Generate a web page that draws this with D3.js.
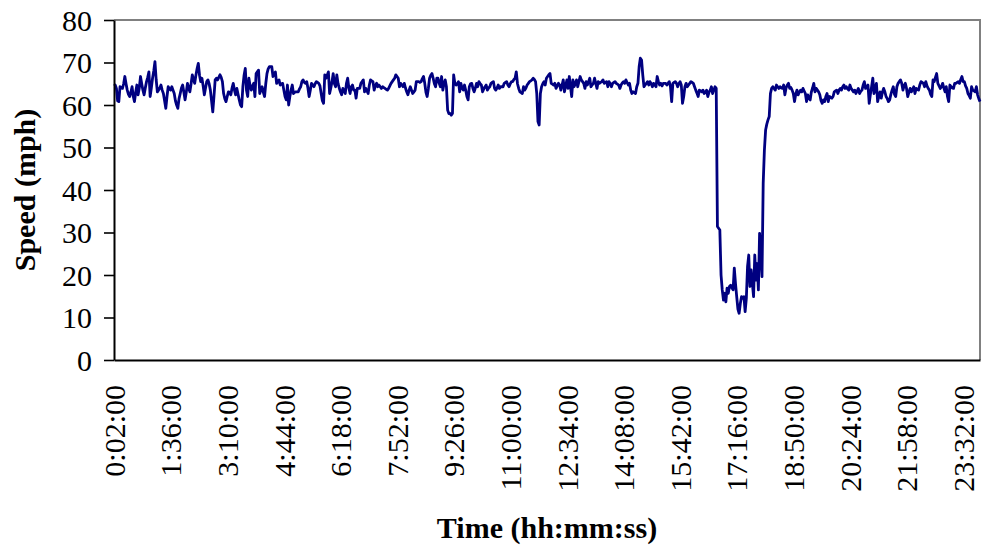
<!DOCTYPE html>
<html>
<head>
<meta charset="utf-8">
<script src="https://cdn.jsdelivr.net/npm/d3@7/dist/d3.min.js"></script>
<style>
  html, body { margin: 0; padding: 0; background: #fff; }
  svg { display: block; }
  text { font-family: "Liberation Serif", "Times New Roman", serif; fill: #000; }
</style>
</head>
<body>
<svg id="chart" width="982" height="550"></svg>
<script>
// Speed samples, one every two minutes from 0:02:00 through the day (mph)
const speed = [
  64.5, 64.7, 63.9, 61, 60.8, 64.3, 64, 63.9, 65, 66.7,
  65, 63.5, 62.5, 62, 63, 64.3, 62, 60.8, 63, 64.7,
  62.4, 64, 66.7, 65, 63.5, 62.4, 64, 65.5, 66.5, 67.8,
  62, 64, 66.3, 68, 70.2, 66, 63.1, 63.5, 64, 64.7,
  63.5, 62.7, 61, 59.2, 62, 64.3, 63.8, 63.5, 64.3, 63.5,
  62.7, 61, 60, 59.2, 61.5, 62.7, 64, 64.7, 63, 61.2,
  63, 65.1, 64, 63.1, 65, 67.1, 66, 65.1, 67, 68.6,
  69.8, 67, 65.5, 66.3, 64.5, 62.4, 64, 65.5, 65.9, 65,
  63.5, 61, 58.4, 62, 65.9, 66.3,
  65.9, 66.5, 67.1, 66.5, 65.5, 62.7, 61.5, 60.8, 62, 63.1,
  63, 62.4, 64, 65.1, 63.5, 62.4, 63.9, 62.5, 61.2, 60,
  59.6, 64.3, 67, 68.6, 63.5, 62, 66.3, 64.5, 63.5, 64.5,
  65.1, 62, 67.4, 67.8, 68.2, 62.7, 63.5, 64.3, 63, 62,
  65, 67.4, 68.5, 69, 69, 69, 66.7, 67.3, 67.8, 65.1,
  65.5, 65.9, 64.7, 65, 65.1, 63.5, 62, 61.2, 64.7, 60,
  62, 63.5, 64.7, 62.7, 63, 63.1, 63.1, 63.1, 63.8, 64.3,
  65.5, 65.9, 65.3, 65.1, 65.5, 64, 62, 63.5, 65.1, 64.7,
  64.3, 65, 65.5, 65.3, 65.1, 64.5,
  62.7, 61, 60.4, 67.1, 66.3, 67, 67.8, 62.7, 64, 65.5,
  67.4, 65, 64.3, 67.1, 65.1, 64, 63.1, 62.4, 63.9, 63.3,
  62.7, 65.1, 66.3, 64, 62.7, 64.3, 64.7, 63.5, 63.5, 61.6,
  63.9, 63.9, 63.9, 65.1, 65.5, 65.9, 63.1, 63.9, 63.3, 62.7,
  64.7, 65.9, 65.7, 65.5, 63.5, 64.5, 65.1, 64.3, 64.7, 64.3,
  63.9, 64.3, 64.1, 63.9, 63.7, 63.5, 63.9, 64.5, 65.1, 65.5,
  65.9, 66.3, 67.1, 66.7, 66.3, 64.3, 65.1, 64.7, 64.3, 65.1,
  64, 63.1, 62.4, 63.5, 64.3, 63.5, 62.7, 63.1, 63.5, 65.5,
  65.5, 65.5, 65.3,
  65.5, 66.2, 66.7, 65.1, 63, 62, 63.9, 66.3, 67, 67.4,
  66.3, 65, 64.3, 66.3, 66.3, 65.1, 64.3, 66.7, 63.5, 65,
  65.9, 64.3, 58.8, 58, 58, 57.6, 58, 67.1, 65.1, 64.7,
  65, 65.5, 63.1, 65.1, 64, 63.5, 64.7, 63.5, 62, 61.2,
  64.3, 65, 65.1, 63.9, 63.1, 64, 65.1, 64.3, 65.5, 65,
  64.7, 63.1, 63.8, 64.3, 64.7, 63.5, 64, 64.3, 65.1, 65.3,
  65.5, 63.9, 63.5, 64, 64.7, 63.9, 64.3, 64.3, 64.3, 65.1,
  65.3, 65.5, 64.7, 64.3, 65, 65.5, 65.5, 66, 66.3, 67.8,
  65, 63.9,
  63.1, 62.9, 62.7, 64.3, 63.5, 64, 64.7, 65.1, 65.5, 65.7,
  65.9, 66.3, 66, 65.5, 62.7, 56.1, 55.3, 62.7, 64.3, 65,
  65.5, 64.7, 66.3, 66.7, 67.1, 67.4, 65.1, 64.9, 64.7, 65.1,
  63.9, 64.5, 65.1, 64.7, 63.5, 64.7, 65.9, 63.1, 64.5, 65.9,
  63.9, 66.7, 64.3, 62, 65.9, 64.3, 65, 65.9, 64.3, 65.5,
  66.7, 65.9, 65.5, 65.1, 63.9, 65.5, 64.7, 65.5, 66.3, 64.3,
  64.7, 65.1, 66.3, 65.1, 63.9, 65.5, 65.1, 65.3, 65.5, 65.9,
  65.1, 65.3, 65.5, 64.3, 65.5, 65, 64.3, 65.1, 65.3, 65.5,
  65.1, 64.9, 64.7,
  63.9, 64.7, 65.2, 65.5, 65.1, 65.9, 65.3, 64.7, 65.1, 63.5,
  62.7, 63.1, 62.9, 62.7, 64.3, 65.1, 69, 71, 70.6, 67.1,
  64.3, 64.7, 65.1, 65.5, 64.7, 65.5, 65, 64.3, 65.1, 64.7,
  64.3, 66.7, 65.5, 64.7, 65.1, 64.5, 65.1, 65.1, 65.1, 64.7,
  65.1, 65.5, 64.3, 60.8, 65.1, 65.3, 65.5, 65.1, 64.3, 65,
  65.5, 64.7, 60.4, 62, 64.3, 65.1, 64.3, 64.7, 65.1, 65.5,
  65.3, 65.1, 64.3, 63.5, 62.8, 62, 63.5, 63.3, 63.1, 63.5,
  62.7, 63, 63.5, 62, 63, 63.5, 64.3, 62.7, 63.5, 64.3,
  63.9,
  31.4, 31, 30.6, 20, 16.5, 14.1, 15.7, 13.7, 16.9, 15.7,
  17.3, 17.6, 17, 16.5, 21.6, 18, 14.9, 12, 11, 13.3,
  14.9, 14.5, 14.9, 11.4, 14.5, 22, 24.7, 17.3, 21.2, 18,
  14.9, 24.7, 18.8, 22.7, 16.5, 29.8, 25.1, 19.6, 41.6, 49.4,
  54.1, 55.5, 56.5, 57.3, 62.7, 63.9, 64.3, 63.9, 63.5, 64.7,
  64.3, 63.9, 64.3, 64, 63.9, 64.7, 62.4, 64, 64.7, 65.1,
  63.9, 64.1, 63.5, 62.7, 60.8, 62.5, 63.5, 62.4, 63, 63.5,
  63.1, 63.9, 63.3, 62.7, 60.8, 62.4, 61.5, 61.2, 63.1, 64,
  65.1, 63.1, 63.9, 63.5, 63.1, 62.4, 61, 60.4, 61.2, 60.8,
  62, 62.7, 60.8, 62, 61.8, 61.6, 62, 63.1, 63.3, 63.5,
  62.7, 63.5, 63.9, 63.5, 64.3, 64.7, 63.9, 64.3, 63.8, 63.5,
  64.7, 63.9, 63.5, 63.1, 63.5, 62.7, 63.3, 63.9, 62.7, 63.2,
  63.5, 64.7, 65.5, 63.9, 64.3, 64.7, 60.4, 62.5, 64.3, 66.3,
  62.7, 64, 65.1, 60.8, 62, 63.1, 61.6, 63, 63.9, 63.1,
  62, 61.5, 60.8,
  61.2, 62.5, 63.5, 64.3, 62.5, 62, 64.3, 65.1, 65.5, 65.9,
  65.1, 63.5, 64.5, 65.1, 63.9, 62, 63, 63.9, 63.1, 63.7,
  64.3, 62.7, 63.9, 63.7, 63.5, 64.7, 65.5, 65.3, 65.1, 64.3,
  65.5, 64.5, 63.9, 63.5, 62.5, 62, 65.9, 65.5, 66.5, 67.4,
  65.1, 64.5, 63.9, 64.3, 65.1, 64, 63.1, 64.3, 62, 60.8,
  64.7, 64.3, 64, 63.9, 65.1, 65.1, 65.3, 65.5, 65.1, 66,
  66.7, 65.5, 65.5, 64.5, 63.9, 62.7, 62.2, 61.6, 64.3, 63.5,
  63.3, 63.1, 64.3, 62.4, 61.5, 60.8
];

// Sample clock times (category axis): first reading at 0:02:00, every 2 minutes
const startMinute = 2;
const stepMinutes = 2;
const times = speed.map((_, i) => {
  const m = startMinute + i * stepMinutes;
  const h = Math.floor(m / 60) % 24;
  const mm = String(m % 60).padStart(2, "0");
  return `${h}:${mm}:00`;
});

// Labelled categories along the time axis
const timeTicks = ["0:02:00", "1:36:00", "3:10:00", "4:44:00", "6:18:00", "7:52:00",
  "9:26:00", "11:00:00", "12:34:00", "14:08:00", "15:42:00", "17:16:00",
  "18:50:00", "20:24:00", "21:58:00", "23:32:00"];
const speedTicks = [0, 10, 20, 30, 40, 50, 60, 70, 80];

const xTitle = "Time (hh:mm:ss)";
const yTitle = "Speed (mph)";

const svg = d3.select("#chart");
const plot = { left: 114, right: 980, top: 20, bottom: 360 };

const x = d3.scalePoint().domain(times).range([plot.left, plot.right]).padding(0);
const y = d3.scaleLinear().domain([0, 80]).range([plot.bottom, plot.top]);

// Plot frame: grey top/right border
svg.append("path")
  .attr("d", `M${plot.left},${plot.top}H${plot.right}V${plot.bottom}`)
  .attr("fill", "none")
  .attr("stroke", "#808080")
  .attr("stroke-width", 2);

// Speed trace
const line = d3.line()
  .x((d, i) => x(times[i]))
  .y(d => y(d));

svg.append("path")
  .datum(speed)
  .attr("d", line)
  .attr("fill", "none")
  .attr("stroke", "#000080")
  .attr("stroke-width", 2.8)
  .attr("stroke-linejoin", "round");

// Y axis
const yAxis = svg.append("g")
  .attr("transform", `translate(${plot.left},0)`)
  .call(d3.axisLeft(y).tickValues(speedTicks).tickSize(10).tickPadding(12).tickSizeOuter(0));
yAxis.select(".domain").attr("stroke", "#000").attr("stroke-width", 2);
yAxis.selectAll(".tick line").attr("stroke", "#000").attr("stroke-width", 1.6);
yAxis.selectAll(".tick text")
  .style("font-family", "'Liberation Serif', 'Times New Roman', serif")
  .style("font-size", "30px")
  .attr("dy", "0.34em");

// X axis with vertical time labels
const xAxis = svg.append("g")
  .attr("transform", `translate(0,${plot.bottom})`)
  .call(d3.axisBottom(x).tickValues(timeTicks).tickSize(0).tickSizeOuter(0));
xAxis.select(".domain").attr("stroke", "#000").attr("stroke-width", 2);
xAxis.selectAll(".tick text")
  .style("font-family", "'Liberation Serif', 'Times New Roman', serif")
  .style("font-size", "30px")
  .attr("text-anchor", "end")
  .attr("transform", "rotate(-90)")
  .attr("x", -25)
  .attr("y", 0)
  .attr("dy", "0.34em");

// Axis titles
svg.append("text")
  .attr("x", (plot.left + plot.right) / 2)
  .attr("y", 538)
  .attr("text-anchor", "middle")
  .style("font-size", "30px")
  .style("font-weight", "bold")
  .text(xTitle);

svg.append("text")
  .attr("transform", `translate(34.5,${(plot.top + plot.bottom) / 2}) rotate(-90)`)
  .attr("text-anchor", "middle")
  .style("font-size", "30px")
  .style("font-weight", "bold")
  .text(yTitle);
</script>
</body>
</html>
